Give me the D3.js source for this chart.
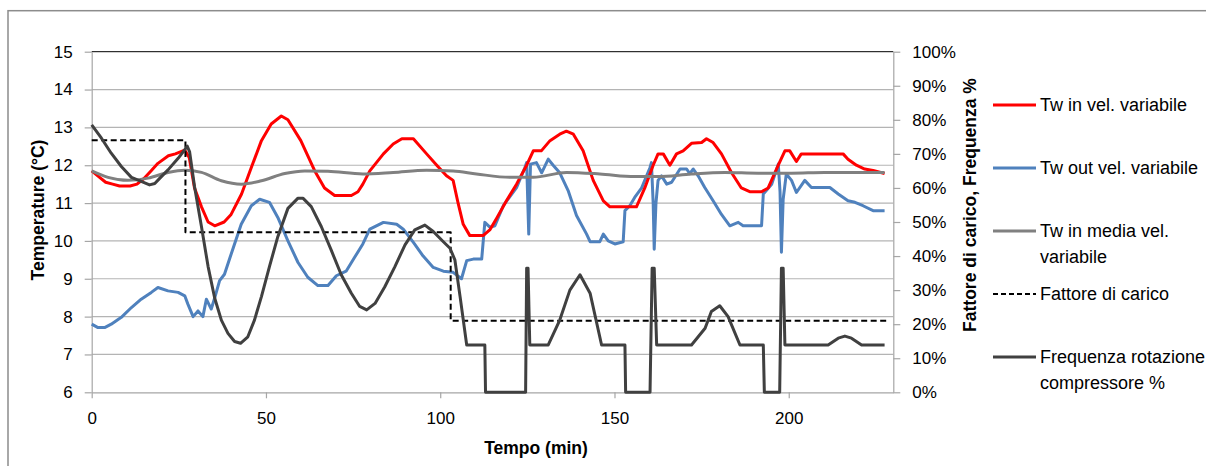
<!DOCTYPE html>
<html><head><meta charset="utf-8">
<script src="https://cdn.jsdelivr.net/npm/d3@7"></script>
<style>
html,body{margin:0;padding:0;background:#fff;}
svg{display:block;font-family:"Liberation Sans",Arial,sans-serif;}
</style></head>
<body><svg id="c" width="1206" height="466"></svg>
<script>
// ---- data (time in minutes) ----
const tIn = [0,2,4,6,8,11,13,15,17,19,22,24,26.7,28,29.5,31.5,33.4,35.3,38,40,43,45.8,48.7,51.5,54.4,56.3,60,64,66.8,69.7,74.5,76.4,77.8,79.8,83.7,86.5,89,92.3,96.1,99,101.8,103.7,105.2,106.6,108.5,112.3,114.3,116.2,119,121.9,124.8,126.7,129,131.5,134.3,136.2,138.2,141,143.9,146.8,148.7,153.5,156.3,158.7,161.1,162.5,164,165.9,167.8,169.7,172.1,175,176.4,178.3,180.7,183.6,186.4,188.8,192.2,194.1,197,198.9,200.3,202.2,203.6,206.5,215.6,217,219.4,221.8,224.2,227.5];
const twIn = [11.85,11.7,11.55,11.5,11.45,11.45,11.5,11.65,11.85,12.05,12.25,12.3,12.4,12.2,11.4,10.9,10.5,10.4,10.5,10.7,11.24,11.94,12.65,13.09,13.3,13.2,12.65,11.85,11.4,11.2,11.2,11.3,11.5,11.85,12.3,12.56,12.7,12.7,12.3,12.0,11.72,11.6,10.97,10.44,10.14,10.14,10.3,10.6,11.06,11.5,12.0,12.38,12.38,12.65,12.82,12.9,12.82,12.38,11.6,11.06,10.9,10.9,10.9,11.4,12.0,12.3,12.3,12.0,12.3,12.38,12.58,12.6,12.7,12.6,12.3,11.8,11.4,11.3,11.3,11.4,12.0,12.38,12.38,12.1,12.3,12.3,12.3,12.16,12.0,11.9,11.86,11.78];

const tOut = [0,1.8,3.7,5.6,8.5,11.4,14.2,17.1,19,21.9,24.8,26.7,27.6,29.1,30.5,31.9,32.9,34.3,35.3,36.7,38.1,40,42.9,45.8,48.2,51,53.4,56.3,59.2,62,64.9,67.8,70.2,73,75.4,77.8,79.8,83.7,87.5,89.4,92.3,95.1,98,100.9,103.7,106.1,107.6,109.5,111.9,112.8,114.3,115.7,118.1,121.9,124.3,124.8,125.1,125.4,125.9,127.6,129.1,131,132.4,134.3,136.7,139.1,142,143,145.8,146.8,148.2,150.1,152.5,153,154.4,155.8,157.8,160.2,160.6,161.1,161.4,161.9,162.5,163.5,165,166.4,168.8,170.7,171.6,172.6,174,175.9,178.3,180.7,183.1,185.5,186.9,192.2,192.7,195.1,197,197.5,197.9,198.4,199.3,200.8,202.2,204.6,206.5,211.8,214.2,217,219,221.3,224.2,227.5];
const twOut = [7.8,7.71,7.71,7.8,7.98,8.24,8.46,8.64,8.77,8.68,8.64,8.55,8.33,8.0,8.15,8.0,8.46,8.2,8.5,8.95,9.12,9.65,10.44,10.93,11.1,11.02,10.62,10.0,9.43,9.04,8.82,8.82,9.08,9.2,9.56,9.92,10.31,10.49,10.44,10.31,9.96,9.6,9.3,9.2,9.17,9.0,9.48,9.52,9.52,10.49,10.36,10.4,10.93,11.41,11.94,12.07,11.1,10.18,12.03,12.07,11.8,12.16,12.0,11.8,11.33,10.67,10.18,9.98,9.98,10.18,10.0,9.92,9.98,10.8,10.93,11.15,11.4,11.94,12.07,11.0,9.78,11.0,11.6,11.72,11.5,11.55,11.9,11.9,11.78,11.9,11.72,11.41,11.06,10.7,10.4,10.49,10.4,10.4,11.24,11.5,12.03,11.3,9.7,11.1,11.77,11.6,11.28,11.6,11.41,11.41,11.24,11.06,11.02,10.93,10.8,10.8];

const tMedia = [0,4.7,10.4,16.2,21.9,26.7,31.5,37.2,43,48.7,55.4,61.1,67.8,77.8,86.5,96.1,103.7,110.4,120,126.7,136.2,145.8,155.8,162.5,172.1,181.7,191.2,200.8,210.3,227.5];
const twMedia = [11.85,11.68,11.6,11.66,11.81,11.87,11.81,11.59,11.5,11.59,11.78,11.85,11.84,11.77,11.81,11.87,11.85,11.77,11.68,11.68,11.81,11.77,11.7,11.7,11.77,11.81,11.79,11.79,11.81,11.81];

const tFatt = [0,26.9,103,228];
const fatt = [74,47,21,21];

const tFreq = [0,2.8,5.6,8.5,11.4,14.2,16.6,18.1,19.5,21.9,24.8,26.7,27.4,28.1,29.5,31.5,33.4,35.3,37.2,39.1,41,42.7,44.8,46.7,48.7,51,53.4,56.3,59.2,60.6,63,65.9,68.7,71.6,74.5,76.9,78.9,81.3,84.1,87,89.9,92.7,95.6,98,100.9,102.8,104.2,105.7,107.6,112.8,113,124.5,124.8,125.2,125.7,131,134.3,137.2,140.1,143,146.3,153,153.2,160.2,160.8,161.4,162.1,172.1,176,177.8,180.2,182.6,186,192.7,193,197.4,197.9,198.4,198.9,211.3,214.2,216.1,218,220.9,227.5];
const freq = [78.5,74.6,70.2,66.3,63.1,61.9,60.9,61.3,62.8,65.3,68.7,71.2,72.3,70.6,60.4,48.6,36.9,27.6,21.2,17.3,14.9,14.4,16.3,21.2,28.1,36.9,45.7,54,57,57,54.5,48.6,41.8,34.5,29.1,25.2,24.2,26.1,31,36.9,43.3,47.7,49.1,47.2,44.2,42.3,38.9,28.1,13.9,13.9,0,0,36.4,36.4,13.9,13.9,21.2,30,34.5,29.1,13.9,13.9,0,0,36.4,36.4,13.9,13.9,18.8,23.7,25.4,22.2,13.9,13.9,0,0,36.4,36.4,13.9,13.9,15.9,16.5,15.9,13.9,13.9];

const xTicks = [0,50,100,150,200];
const yTicks = [6,7,8,9,10,11,12,13,14,15];
const pTicks = [0,10,20,30,40,50,60,70,80,90,100];

const legendItems = [
  {lines:["Tw in vel. variabile"], color:"#ff0000", dash:null, w:3.2},
  {lines:["Tw out vel. variabile"], color:"#4f81bd", dash:null, w:3.2},
  {lines:["Tw in media vel.","variabile"], color:"#808080", dash:null, w:3.2},
  {lines:["Fattore di carico"], color:"#000000", dash:"5,3", w:2.2},
  {lines:["Frequenza rotazione","compressore %"], color:"#404040", dash:null, w:3.2}
];

// ---- layout ----
const svg = d3.select("#c");
const L = 91.7, R = 893.3, T = 51.7, B = 392.3;
const x = d3.scaleLinear().domain([0,230]).range([L,R]);
const yT = d3.scaleLinear().domain([6,15]).range([B,T]);
const yP = d3.scaleLinear().domain([0,100]).range([B,T]);

// outer frame
svg.append("rect").attr("x",8).attr("y",10.7).attr("width",1220).attr("height",480)
  .attr("fill","none").attr("stroke","#8c8c8c").attr("stroke-width",1.5);

// gridlines
svg.append("g").selectAll("line").data(yTicks.filter(v=>v>6 && v<15)).join("line")
  .attr("x1",L).attr("x2",R).attr("y1",d=>yT(d)).attr("y2",d=>yT(d))
  .attr("stroke","#b4b4b4").attr("stroke-width",1.2);
svg.append("line").attr("x1",L).attr("x2",R).attr("y1",T).attr("y2",T)
  .attr("stroke","#000").attr("stroke-width",1);

const tickFont = 17;
function styleAxis(g){
  g.selectAll(".domain").attr("stroke","#a6a6a6").attr("stroke-width",1.2);
  g.selectAll(".tick line").attr("stroke","#a6a6a6").attr("stroke-width",1.2);
  g.selectAll("text").attr("fill","#000").style("font-size",tickFont+"px")
    .style("font-family","'Liberation Sans',Arial,sans-serif");
}
// left axis
svg.append("g").attr("transform",`translate(${L},0)`)
  .call(d3.axisLeft(yT).tickValues(yTicks).tickSize(7).tickSizeOuter(0).tickPadding(12))
  .call(styleAxis);
// right axis
svg.append("g").attr("transform",`translate(${R},0)`)
  .call(d3.axisRight(yP).tickValues(pTicks).tickFormat(d=>d+"%").tickSize(7).tickSizeOuter(0).tickPadding(12))
  .call(styleAxis);
// bottom axis
svg.append("g").attr("transform",`translate(0,${B})`)
  .call(d3.axisBottom(x).tickValues(xTicks).tickSize(6).tickSizeOuter(0).tickPadding(14))
  .call(styleAxis);

// axis titles
svg.append("text").attr("transform","translate(44,210) rotate(-90)").attr("text-anchor","middle")
  .style("font-weight","bold").style("font-size","17.5px").text("Temperature (°C)");
svg.append("text").attr("transform","translate(976,205) rotate(-90)").attr("text-anchor","middle")
  .style("font-weight","bold").style("font-size","17.5px").text("Fattore di carico, Frequenza %");
svg.append("text").attr("x",536).attr("y",454).attr("text-anchor","middle")
  .style("font-weight","bold").style("font-size","17.5px").text("Tempo (min)");

// ---- series ----
const g = svg.append("g");
function series(ts, vs, yScale, color, w, dash, curve){
  const data = ts.map((t,i)=>[t,vs[i]]);
  const line = d3.line().x(d=>x(d[0])).y(d=>yScale(d[1])).curve(curve||d3.curveLinear);
  g.append("path").datum(data).attr("d",line).attr("fill","none")
    .attr("stroke",color).attr("stroke-width",w).attr("stroke-linejoin","round")
    .attr("stroke-dasharray",dash);
}
series(tOut, twOut, yT, "#4f81bd", 3, null);
series(tIn, twIn, yT, "#ff0000", 3, null);
series(tMedia, twMedia, yT, "#808080", 3, null, d3.curveMonotoneX);
series(tFatt, fatt, yP, "#000000", 2, "6,3.5", d3.curveStepAfter);
series(tFreq, freq, yP, "#404040", 3, null);

// ---- legend ----
const legY = [105,168,231,294,357];
const lg = svg.append("g");
legendItems.forEach((it,i)=>{
  const y = legY[i];
  lg.append("line").attr("x1",993).attr("x2",1036).attr("y1",y).attr("y2",y)
    .attr("stroke",it.color).attr("stroke-width",it.w).attr("stroke-dasharray",it.dash);
  it.lines.forEach((s,j)=>{
    lg.append("text").attr("x",1040).attr("y",y+26*j).attr("dy","0.35em")
      .style("font-size","18px").text(s);
  });
});
</script></body></html>
